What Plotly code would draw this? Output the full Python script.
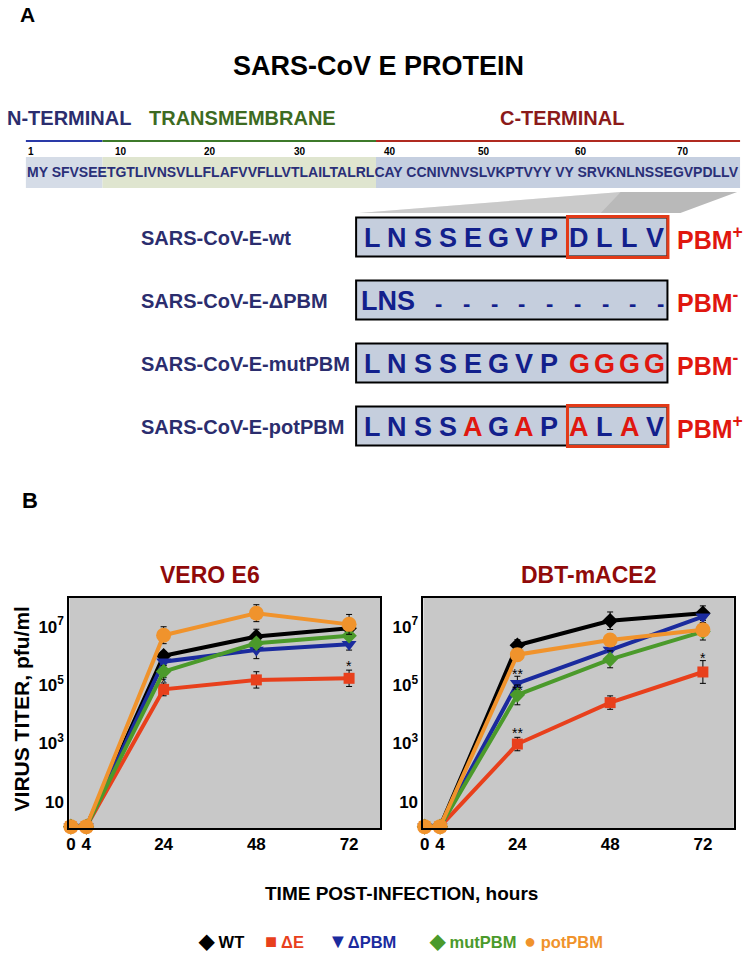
import plotly.graph_objects as go

W, H = 752, 958
def px(x): return x / W
def py(y): return 1 - y / H

FONT = "Liberation Sans, Arial, sans-serif"
NARROW = "Liberation Sans Narrow, Arial Narrow, Liberation Sans, Arial, sans-serif"
NAVY = "#2b2d6e"
LETTER_NAVY = "#12208c"
RED = "#e0170f"

# ---------------- data ----------------
hours = [0, 4, 24, 48, 72]
series_names = ["WT", "ΔE", "ΔPBM", "mutPBM", "potPBM"]
series_colors = ["#000000", "#e8401c", "#1b2b9e", "#4b9a2b", "#f0932c"]
series_symbols = ["diamond", "square", "triangle-down", "diamond", "circle"]
series_sizes = [12, 11, 13, 12, 15]
legend_glyphs = ["◆", "■", "▼", "◆", "●"]
legend_gap = [" ", " ", "", " ", " "]

# VERO E6 titers (pfu/ml)
vero_wt = [1.4, 1.4, 1.0e6, 4.6e6, 8.9e6]
vero_dE = [1.4, 1.4, 7.1e4, 1.5e5, 1.7e5]
vero_dPBM = [1.4, 1.4, 6.3e5, 1.6e6, 2.5e6]
vero_mutPBM = [1.4, 1.4, 2.9e5, 2.7e6, 4.9e6]
vero_potPBM = [1.4, 1.4, 5.1e6, 2.9e7, 1.2e7]
# error bar half-widths (decades)
vero_wt_err = [0, 0, 0.15, 0.25, 0.10]
vero_dE_err = [0, 0, 0.22, 0.28, 0.28]
vero_dPBM_err = [0, 0, 0.12, 0.30, 0.20]
vero_mutPBM_err = [0, 0, 0.20, 0.20, 0.10]
vero_potPBM_err = [0, 0, 0.29, 0.29, 0.34]

# DBT-mACE2 titers (pfu/ml)
dbt_wt = [1.4, 1.4, 2.3e6, 1.6e7, 2.9e7]
dbt_dE = [1.4, 1.4, 9.5e2, 2.5e4, 2.8e5]
dbt_dPBM = [1.4, 1.4, 1.15e5, 1.6e6, 2.2e7]
dbt_mutPBM = [1.4, 1.4, 4.6e4, 7.6e5, 6.8e6]
dbt_potPBM = [1.4, 1.4, 1.1e6, 3.5e6, 7.8e6]
dbt_wt_err = [0, 0, 0.19, 0.30, 0.25]
dbt_dE_err = [0, 0, 0.23, 0.23, 0.39]
dbt_dPBM_err = [0, 0, 0.24, 0.20, 0.20]
dbt_mutPBM_err = [0, 0, 0.34, 0.29, 0.29]
dbt_potPBM_err = [0, 0, 0.20, 0.15, 0.20]

# significance marks: (hour, log10 position, text)
vero_stars = [(24, 5.24, "*"), (72, 5.80, "*")]
dbt_stars = [(24, 5.50, "**"), (24, 4.95, "**"), (24, 3.49, "**"), (72, 6.05, "*")]

ytick_vals = [10, 1e3, 1e5, 1e7]
ytick_text = ["10", "10<sup>3</sup>", "10<sup>5</sup>", "10<sup>7</sup>"]
xtick_text = ["0", "4", "24", "48", "72"]

# protein panel
sequence = "MY SFVSEETGTLIVNSVLLFLAFVVFLLVTLAILTALRLCAY CCNIVNVSLVKPTVYY VY SRVKNLNSSEGVPDLLV"
residue_ticks = ["1", "10", "20", "30", "40", "50", "60", "70"]
residue_tick_px = [26.7, 118, 206.7, 298, 388, 483, 580, 683]

construct_labels = ["SARS-CoV-E-wt", "SARS-CoV-E-ΔPBM", "SARS-CoV-E-mutPBM", "SARS-CoV-E-potPBM"]
construct_seqs = ["LNSSEGVPDLLV", "LNS", "LNSSEGVPGGGG", "LNSSAGAPALAV"]
construct_mut = ["000000000000", "000", "000000001111", "000010101010"]
construct_pbm = ["+", "-", "-", "+"]
construct_pbm_box = [True, False, False, True]

vero = [vero_wt, vero_dE, vero_dPBM, vero_mutPBM, vero_potPBM]
vero_err = [vero_wt_err, vero_dE_err, vero_dPBM_err, vero_mutPBM_err, vero_potPBM_err]
dbt = [dbt_wt, dbt_dE, dbt_dPBM, dbt_mutPBM, dbt_potPBM]
dbt_err = [dbt_wt_err, dbt_dE_err, dbt_dPBM_err, dbt_mutPBM_err, dbt_potPBM_err]

fig = go.Figure()

def add_panel(values, errs, xa, ya):
    for i in range(len(series_names)):
        v = values[i]
        e = errs[i]
        plus = [val * (10 ** d - 1) for val, d in zip(v, e)]
        minus = [val * (1 - 10 ** (-d)) for val, d in zip(v, e)]
        fig.add_trace(go.Scatter(
            x=hours, y=v, mode="lines+markers", name=series_names[i],
            xaxis=xa, yaxis=ya, showlegend=False, cliponaxis=False,
            line=dict(color=series_colors[i], width=4),
            marker=dict(symbol=series_symbols[i], size=series_sizes[i], color=series_colors[i]),
            error_y=dict(type="data", symmetric=False, array=plus, arrayminus=minus,
                         color="#000000", thickness=1, width=3),
        ))

add_panel(vero, vero_err, "x", "y")
add_panel(dbt, dbt_err, "x2", "y2")

ax_common = dict(showline=True, linecolor="black", linewidth=2, mirror=True,
                 showgrid=False, zeroline=False, ticks="",
                 tickfont=dict(family=FONT, size=17, color="black", weight="bold"))

y0, y1 = py(828), py(597.5)
fig.update_layout(
    width=W, height=H, margin=dict(l=0, r=0, t=0, b=0),
    paper_bgcolor="white", plot_bgcolor="#c8c8c8",
    xaxis=dict(domain=[px(65.7), px(378)], range=[-0.4, 80], tickvals=hours, ticktext=xtick_text, **ax_common),
    yaxis=dict(domain=[y0, y1], type="log", range=[0.1, 8.0], tickvals=ytick_vals, ticktext=ytick_text, **ax_common),
    xaxis2=dict(domain=[px(421.7), px(733.7)], range=[-0.3, 80], tickvals=hours, ticktext=xtick_text, anchor="y2", **ax_common),
    yaxis2=dict(domain=[y0, y1], type="log", range=[0.1, 8.0], tickvals=ytick_vals, ticktext=ytick_text, anchor="x2", **ax_common),
)

ann = []
shapes = []

def text(x, y, s, size, color="black", anchor="center", family=FONT, bold=True, **kw):
    d = dict(x=px(x), y=py(y), xref="paper", yref="paper", text=s, showarrow=False,
             xanchor=anchor, yanchor="middle",
             font=dict(family=family, size=size, color=color, weight="bold" if bold else "normal"))
    d.update(kw)
    ann.append(d)

# ---- Panel A ----
text(24, 15, "A", 21)
text(376, 66, "SARS-CoV E PROTEIN", 27)
text(1, 118, "N-TERMINAL", 20, NAVY, anchor="left")
text(144, 118, "TRANSMEMBRANE", 20, "#3d6b22", anchor="left")
text(497, 118, "C-TERMINAL", 20, "#8b1a1a", anchor="left")

def hline(xa, xb, y, color, w=2):
    shapes.append(dict(type="line", xref="paper", yref="paper", x0=px(xa), x1=px(xb), y0=py(y), y1=py(y),
                       line=dict(color=color, width=w)))

def rect(xa, ya, xb, yb, fill, line_color=None, lw=0, layer="below"):
    shapes.append(dict(type="rect", xref="paper", yref="paper", x0=px(xa), x1=px(xb), y0=py(yb), y1=py(ya),
                       fillcolor=fill, line=dict(color=line_color or fill, width=lw), layer=layer))

hline(22, 99, 141, "#2a3aa8")
hline(99, 374, 141, "#3d7a2a")
hline(374, 740, 141, "#b02a20")

for t, xp in zip(residue_ticks, residue_tick_px):
    text(xp, 151.5, t, 10, "black")

rect(22, 157, 99, 188, "#d5dce7")
rect(99, 157, 374, 188, "#dfe5cf")
rect(374, 157, 740, 188, "#c5cfe0")
text(381, 172, sequence, 14, "#2a2f78")

# trapezoid zoom shape (two layers for a light-to-dark look)
pts = [(357, 213), (620, 192), (737, 192), (680, 213)]
path = "M " + " L ".join(f"{px(a):.5f},{py(b):.5f}" for a, b in pts) + " Z"
shapes.append(dict(type="path", xref="paper", yref="paper", path=path, fillcolor="#b9b9b9",
                   line=dict(width=0), layer="below"))
pts2 = [(357, 213), (620, 192), (600, 213)]
path2 = "M " + " L ".join(f"{px(a):.5f},{py(b):.5f}" for a, b in pts2) + " Z"
shapes.append(dict(type="path", xref="paper", yref="paper", path=path2, fillcolor="rgba(255,255,255,0.25)",
                   line=dict(width=0), layer="below"))

row_y = [237, 300, 363, 426]
box_h = 39
for r, yc in enumerate(row_y):
    text(136, yc + 1, construct_labels[r], 20, NAVY, anchor="left")
    rect(354, yc - box_h / 2, 667, yc + box_h / 2, "#c5cedd")
    shapes.append(dict(type="rect", xref="paper", yref="paper", x0=px(354), x1=px(667),
                       y0=py(yc + box_h / 2), y1=py(yc - box_h / 2),
                       line=dict(color="black", width=2), fillcolor="rgba(0,0,0,0)", layer="above"))
    seq = construct_seqs[r]
    if len(seq) == 12:
        for i, ch in enumerate(seq):
            xi = 370 + 25.4 * i + (5 if i >= 8 else 0)
            col = RED if construct_mut[r][i] == "1" else LETTER_NAVY
            text(xi, yc + 1, ch, 27, col, family=NARROW)
    else:
        text(357, yc + 1, seq, 27, LETTER_NAVY, anchor="left", family=NARROW)
        n_dash = 12 - len(seq)
        for k in range(n_dash):
            xd = 437 + k * (660 - 437) / (n_dash - 1)
            text(xd, yc + 3, "-", 22, LETTER_NAVY)
    if construct_pbm_box[r]:
        shapes.append(dict(type="rect", xref="paper", yref="paper", x0=px(566.5), x1=px(667.5),
                           y0=py(yc + box_h / 2 + 1), y1=py(yc - box_h / 2 - 1),
                           line=dict(color="#e23a18", width=3), fillcolor="rgba(0,0,0,0)", layer="above"))
    text(675, yc + 1, "PBM<sup>" + construct_pbm[r] + "</sup>", 25, RED, anchor="left")

# ---- Panel B ----
text(26, 500, "B", 22)
text(206.7, 575, "VERO E6", 23, "#900a0a")
text(587.7, 575, "DBT-mACE2", 23, "#900a0a")
text(17.5, 709, "VIRUS TITER, pfu/ml", 21, textangle=-90)
text(400, 893, "TIME POST-INFECTION, hours", 19)

for (h, lv, s) in vero_stars:
    ann.append(dict(x=h, y=lv, xref="x", yref="y", text=s, showarrow=False, yshift=-4,
                    font=dict(family=FONT, size=14, color="black")))
for (h, lv, s) in dbt_stars:
    ann.append(dict(x=h, y=lv, xref="x2", yref="y2", text=s, showarrow=False, yshift=-4,
                    font=dict(family=FONT, size=14, color="black")))

legend_x = [193, 260, 324, 425, 521]
for i, name in enumerate(series_names):
    label = f"<span style='font-size:20px'>{legend_glyphs[i]}</span>{legend_gap[i]}{name}"
    text(legend_x[i], 941, label, 16.5, series_colors[i], anchor="left")

fig.update_layout(annotations=ann, shapes=shapes)
fig.write_html(
    "out.html",
    config={"displayModeBar": False},
    post_script="document.body.style.margin='0px';document.body.style.padding='0px';document.body.style.overflow='hidden';",
)
